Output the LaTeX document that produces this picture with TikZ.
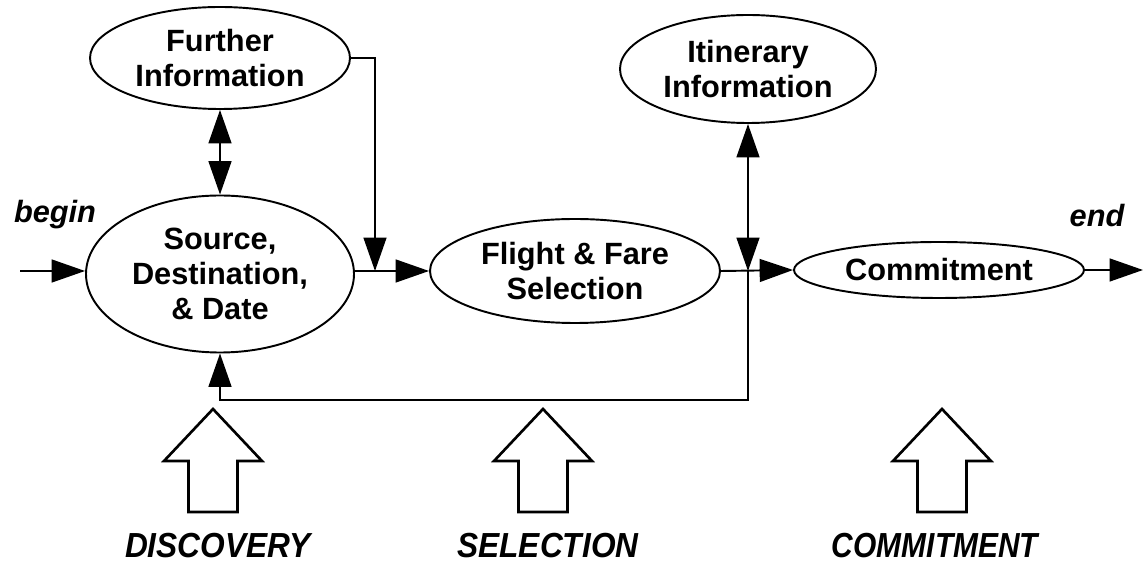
\documentclass[tikz,border=0pt]{standalone}
\usepackage{fontspec}
\usepackage{graphicx}
\setmainfont{Liberation Sans}
\usetikzlibrary{shapes.geometric,arrows.meta}
\newcommand{\bigupar}[1]{%
  \draw[line width=1.5pt,line join=miter] (#1,409) -- (#1+49,461) -- (#1+24.5,461) -- (#1+24.5,512)
    -- (#1-24.5,512) -- (#1-24.5,461) -- (#1-49,461) -- cycle;}
\begin{document}
\begin{tikzpicture}[x=0.02cm,y=-0.02cm,
  st/.style={ellipse,draw,line width=1.1pt,inner sep=0pt,align=center,
    font=\fontsize{17.5}{19.8}\selectfont\bfseries},
  conn/.style={line width=1.1pt,-{Triangle[length=19pt,width=13pt]}},
  dconn/.style={line width=1.1pt,{Triangle[length=19pt,width=13pt]}-{Triangle[length=19pt,width=13pt]}},
  lab/.style={font=\fontsize{17.5}{19.8}\selectfont\bfseries\itshape,inner sep=0pt,anchor=base},
  phase/.style={font=\fontsize{19.8}{22}\selectfont\bfseries\itshape,inner sep=0pt,anchor=base}]
\useasboundingbox (0,0) rectangle (1144,563);

% nodes
\node[st,minimum width=260*0.02cm,minimum height=102*0.02cm] (further) at (220,58) {Further\\Information};
\node[st,minimum width=268*0.02cm,minimum height=157*0.02cm] (source) at (220,274) {Source,\\Destination,\\\& Date};
\node[st,minimum width=290*0.02cm,minimum height=104*0.02cm] (flight) at (575,271) {Flight \& Fare\\Selection};
\node[st,minimum width=256*0.02cm,minimum height=108*0.02cm] (itin) at (748,69) {Itinerary\\Information};
\node[st,minimum width=290*0.02cm,minimum height=56*0.02cm] (commit) at (939,270) {Commitment};

% labels
\node[lab] (begin) at (55,223) {begin};
\node[lab] (endl) at (1097,227) {end};

% coordinates
\coordinate (startpt) at (20,271);
\coordinate (j1) at (375,271);
\coordinate (j2) at (748,271);
\coordinate (c1) at (748,400);
\coordinate (endpt) at (1143,270);

% connectors
\draw[conn] (startpt) -- (source.west |- startpt);
\draw[dconn] (further.south) -- (source.north);
\draw[conn] (further.east) -| (j1);
\draw[conn] (source.east |- j1) -- (flight.west);
\draw[dconn] (itin.south) -- (j2);
\draw[conn] (flight.east) -- (commit.west);
\draw[conn] (j2) -- (c1) -| (source.south);
\draw[conn] (commit.east) -- (endpt);

% phase arrows
\bigupar{213}
\bigupar{543}
\bigupar{942}

\node[phase] (disc) at (218,558) {\scalebox{0.91}[1]{DISCOVERY}};
\node[phase] (sel) at (548,558) {\scalebox{0.91}[1]{SELECTION}};
\node[phase] (com) at (935,558) {\scalebox{0.86}[1]{COMMITMENT}};
\end{tikzpicture}
\end{document}
